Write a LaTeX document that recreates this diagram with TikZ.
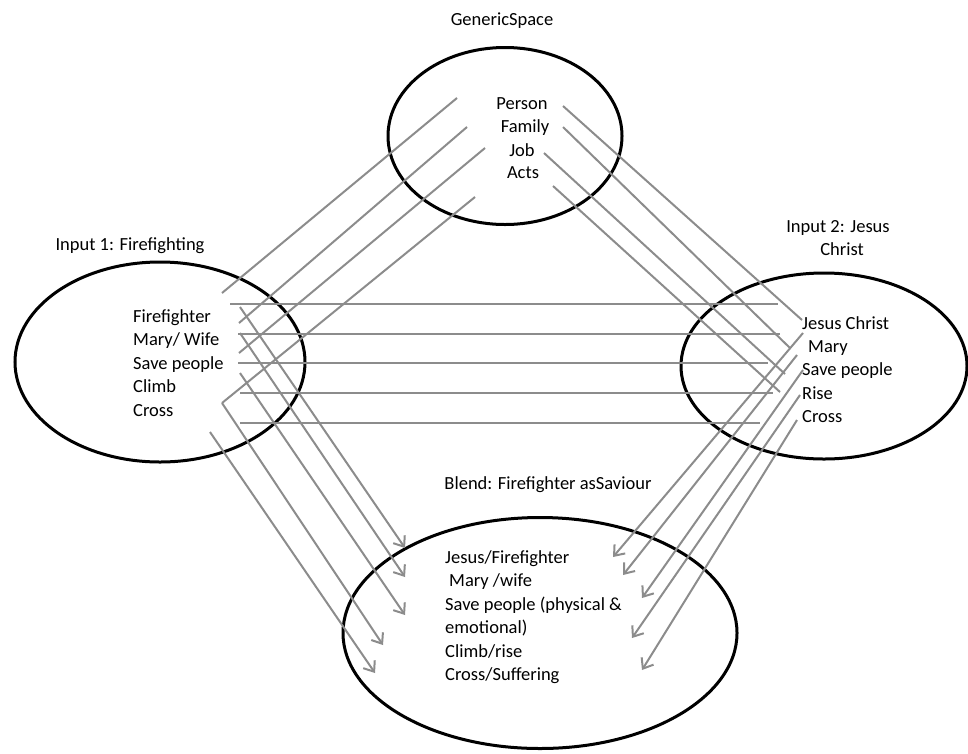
\documentclass[tikz,border=0pt]{standalone}
\usepackage{fontspec}
\setmainfont{Carlito}
\usetikzlibrary{shapes.geometric,arrows.meta}
\begin{document}
\begin{tikzpicture}[x=1pt,y=-1pt,
  space/.style={ellipse,draw=black,line width=3pt,inner sep=0pt,outer sep=0pt},
  lbl/.style={inner sep=0pt,font=\fontsize{18.5}{22}\selectfont,text=black},
  item/.style={lbl,anchor=base west},
  citem/.style={lbl,anchor=base},
  link/.style={draw=gray!90,line width=2pt},
  thinlink/.style={draw=gray!90,line width=1.4pt},
  maparrow/.style={link,-{Straight Barb[length=9pt,width=14pt,line width=2pt]}}
]
\useasboundingbox (0,0) rectangle (968,753);

% spaces
\node[space,minimum width=234pt,minimum height=177pt] (gen) at (505,136) {};
\node[space,minimum width=290pt,minimum height=200pt] (inA) at (160,362) {};
\node[space,minimum width=286pt,minimum height=186pt] (inB) at (824,366) {};
\node[space,minimum width=394pt,minimum height=231pt] (bl) at (540,633) {};

% titles
\node[citem] (tgen) at (502,25) {GenericSpace};
\node[citem] (tA) at (130,250) {Input 1: Firefighting};
\node[citem] (tB1) at (838,232) {Input 2: Jesus};
\node[citem] (tB2) at (842,255) {Christ};
\node[citem] (tbl) at (548,489) {Blend: Firefighter asSaviour};

% generic items
\node[citem] (gPerson) at (522,109) {Person};
\node[citem] (gFamily) at (525,132) {Family};
\node[citem] (gJob) at (522,156) {Job};
\node[citem] (gActs) at (523,178) {Acts};

% input 1 items
\node[item] (aFire) at (133,322) {Firefighter};
\node[item] (aMary) at (133,345) {Mary/ Wife};
\node[item] (aSave) at (133,369) {Save people};
\node[item] (aClimb) at (133,392) {Climb};
\node[item] (aCross) at (133,416) {Cross};

% input 2 items
\node[item] (bJesus) at (802,329) {Jesus Christ};
\node[item] (bMary) at (808,352) {Mary};
\node[item] (bSave) at (802,375) {Save people};
\node[item] (bRise) at (802,399) {Rise};
\node[item] (bCross) at (802,422) {Cross};

% blend items
\node[item] (cJF) at (445,563) {Jesus/Firefighter};
\node[item] (cMW) at (449,586) {Mary /wife};
\node[item] (cSave) at (445,610) {Save people (physical \&};
\node[item] (cEmo) at (445,633) {emotional)};
\node[item] (cCR) at (445,657) {Climb/rise};
\node[item] (cCS) at (445,680) {Cross/Suffering};

% connector end points
\coordinate (g1s) at (457,98);  \coordinate (g1e) at (222,293);
\coordinate (g2s) at (467,127); \coordinate (g2e) at (239,323);
\coordinate (g3s) at (485,148); \coordinate (g3e) at (239,353);
\coordinate (g4s) at (475,197); \coordinate (g4e) at (222,403);

\coordinate (r1s) at (563,106); \coordinate (r1e) at (802,320);
\coordinate (r2s) at (563,127); \coordinate (r2e) at (790,348);
\coordinate (r3s) at (544,153); \coordinate (r3e) at (785,374);
\coordinate (r4s) at (553,186); \coordinate (r4e) at (780,392);

\coordinate (h1s) at (230,304); \coordinate (h1e) at (778,304);
\coordinate (h2s) at (238,334); \coordinate (h2e) at (780,334);
\coordinate (h3s) at (238,363); \coordinate (h3e) at (768,363);
\coordinate (h4s) at (240,393); \coordinate (h4e) at (773,393);
\coordinate (h5s) at (240,423); \coordinate (h5e) at (760,423);

\coordinate (l1s) at (240,307); \coordinate (l1e) at (405,548);
\coordinate (l2s) at (240,333); \coordinate (l2e) at (405,577);
\coordinate (l3s) at (240,373); \coordinate (l3e) at (405,615);
\coordinate (l4s) at (222,403); \coordinate (l4e) at (383,645);
\coordinate (l5s) at (210,432); \coordinate (l5e) at (375,673);

\coordinate (m1s) at (803,333); \coordinate (m1e) at (613,557);
\coordinate (m2s) at (797,355); \coordinate (m2e) at (623,575);
\coordinate (m3s) at (803,370); \coordinate (m3e) at (642,598);
\coordinate (m4s) at (800,395); \coordinate (m4e) at (632,638);
\coordinate (m5s) at (797,420); \coordinate (m5e) at (642,670);

% generic -> input 1
\draw[link] (g1s) -- (g1e);
\draw[link] (g2s) -- (g2e);
\draw[link] (g3s) -- (g3e);
\draw[link] (g4s) -- (g4e);
% generic -> input 2
\draw[link] (r1s) -- (r1e);
\draw[link] (r2s) -- (r2e);
\draw[link] (r3s) -- (r3e);
\draw[link] (r4s) -- (r4e);
% cross-space mappings
\draw[link] (h1s) -- (h1e);
\draw[link] (h2s) -- (h2e);
\draw[link] (h3s) -- (h3e);
\draw[link] (h4s) -- (h4e);
\draw[thinlink] (h5s) -- (h5e);
% input 1 -> blend
\draw[maparrow] (l1s) -- (l1e);
\draw[maparrow] (l2s) -- (l2e);
\draw[maparrow] (l3s) -- (l3e);
\draw[maparrow] (l4s) -- (l4e);
\draw[maparrow] (l5s) -- (l5e);
% input 2 -> blend
\draw[maparrow] (m1s) -- (m1e);
\draw[maparrow] (m2s) -- (m2e);
\draw[maparrow] (m3s) -- (m3e);
\draw[maparrow] (m4s) -- (m4e);
\draw[maparrow] (m5s) -- (m5e);
\end{tikzpicture}
\end{document}
